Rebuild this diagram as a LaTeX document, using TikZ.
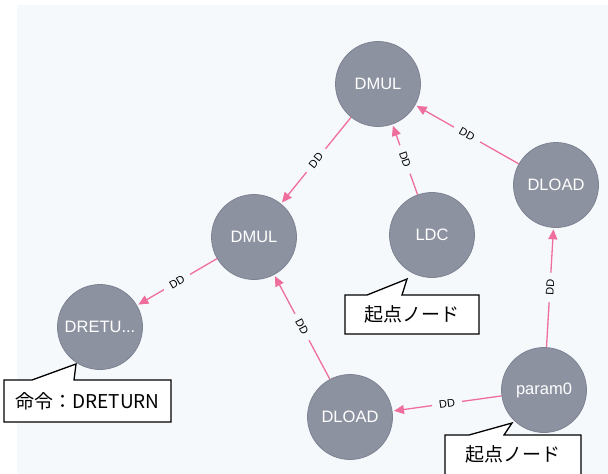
\documentclass[tikz,border=0pt]{standalone}
\usepackage{fontspec}
\setmainfont{Liberation Sans}
\newfontfamily\jpfont{Noto Sans CJK JP}
\usetikzlibrary{arrows.meta}
\definecolor{bgc}{HTML}{F6F9FC}
\definecolor{nodefill}{HTML}{8D92A1}
\definecolor{nodeline}{HTML}{7E8393}
\definecolor{relc}{HTML}{EF6E9B}
\begin{document}
\begin{tikzpicture}[x=1pt,y=-1pt,
  gnode/.style={circle, fill=nodefill, draw=nodeline, line width=0.8pt, minimum size=85pt, inner sep=0pt, text=white, font=\fontsize{16.5}{19}\selectfont},
  rel/.style={draw=relc, line width=1.3pt, -{Triangle[length=10pt,width=9pt]}, shorten >=1.5pt},
  rlab/.style={sloped, fill=bgc, inner xsep=7pt, inner ysep=0.5pt, font=\fontsize{11}{12}\selectfont, text=black},
  callout/.style={draw=black, line width=1.3pt, fill=white, line join=miter},
  ctext/.style={font=\jpfont\fontsize{19}{22}\selectfont, inner sep=0pt}]
\useasboundingbox (0,0) rectangle (608,474);
\fill[bgc] (17,5) rectangle (608,474);
% nodes
\node[gnode] (dmul1) at (378,84) {DMUL};
\node[gnode] (dload1) at (556,185) {DLOAD};
\node[gnode] (dmul2) at (254,237) {DMUL};
\node[gnode] (ldc) at (432,235) {LDC};
\node[gnode] (dret) at (100,327) {DRETU...};
\node[gnode] (dload2) at (350,417) {DLOAD};
\node[gnode] (param) at (544,390) {param0};
% relationships
\draw[rel] (dmul1) -- node[rlab]{DD} (dmul2);
\draw[rel] (ldc) -- node[rlab]{DD} (dmul1);
\draw[rel] (dload1) -- node[rlab]{DD} (dmul1);
\draw[rel] (dmul2) -- node[rlab]{DD} (dret);
\draw[rel] (dload2) -- node[rlab]{DD} (dmul2);
\draw[rel] (param) -- node[rlab]{DD} (dload1);
\draw[rel] (param) -- node[rlab]{DD} (dload2);
% callouts
\coordinate (t1) at (76,364);
\coordinate (t2) at (407,279);
\coordinate (t3) at (512,423);
\draw[callout] (4,380) -- (32,380) -- (t1) -- (74,380) -- (171,380) -- (171,422) -- (4,422) -- cycle;
\node[ctext] (c1) at (87.5,401) {命令：DRETURN};
\draw[callout] (345,295) -- (367,295) -- (t2) -- (402,295) -- (479,295) -- (479,334) -- (345,334) -- cycle;
\node[ctext] (c2) at (412,314.5) {起点ノード};
\draw[callout] (445,435) -- (469,435) -- (t3) -- (504,435) -- (581,435) -- (581,478) -- (445,478) -- cycle;
\node[ctext] (c3) at (513,454) {起点ノード};
\end{tikzpicture}
\end{document}
